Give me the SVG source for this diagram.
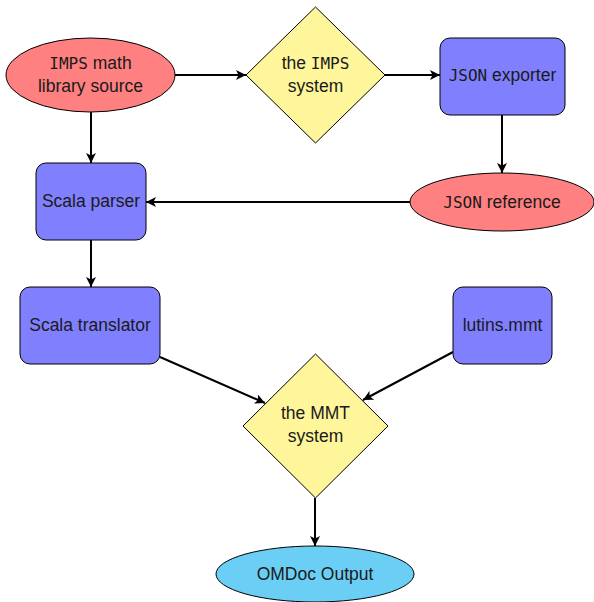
<svg xmlns="http://www.w3.org/2000/svg" width="594" height="602" viewBox="0 0 594 602">
<defs>
<marker id="ah" viewBox="0 0 10 10" refX="10" refY="5" markerWidth="10" markerHeight="10" markerUnits="userSpaceOnUse" orient="auto">
<path d="M0,0 L10,5 L0,10 L2.5,5 Z" fill="#000"/>
</marker>
<style>
.sh{stroke:#000;stroke-width:1}
.red{fill:#FF8080}
.yel{fill:#FFF59B}
.blu{fill:#8080FF}
.cya{fill:#6BCFF5}
text{font-family:"Liberation Sans",Arial,sans-serif;font-size:17.5px;fill:#1a1a1a;text-anchor:middle}
.tt{font-family:"DejaVu Sans Mono","Liberation Mono",monospace;font-size:16px}
.e{stroke:#000;stroke-width:2;fill:none;marker-end:url(#ah)}
</style>
</defs>
<rect width="594" height="602" fill="#fff"/>
<g id="connectors">
<line class="e" x1="175" y1="75" x2="246" y2="75"/>
<line class="e" x1="385" y1="75" x2="440" y2="75"/>
<line class="e" x1="502" y1="115" x2="502" y2="173"/>
<line class="e" x1="410" y1="202" x2="146" y2="202"/>
<line class="e" x1="91" y1="112" x2="91" y2="163"/>
<line class="e" x1="91" y1="240" x2="91" y2="287"/>
<line class="e" x1="160" y1="357" x2="265" y2="403"/>
<line class="e" x1="453" y1="352" x2="363" y2="400"/>
<line class="e" x1="315" y1="498" x2="315" y2="546"/>
</g>
<g id="imps-source">
<ellipse class="sh red" cx="90.5" cy="75" rx="84.5" ry="37"/>
<text x="90.5" y="69"><tspan class="tt">IMPS</tspan> math</text>
<text x="90.5" y="92">library source</text>
</g>
<g id="imps-system">
<polygon class="sh yel" points="315.5,7 385,75 315.5,143 246,75"/>
<text x="315.5" y="69">the <tspan class="tt">IMPS</tspan></text>
<text x="315.5" y="92">system</text>
</g>
<g id="json-exporter">
<rect class="sh blu" x="440" y="38" width="125" height="77" rx="10"/>
<text x="502.5" y="81"><tspan class="tt">JSON</tspan> exporter</text>
</g>
<g id="json-reference">
<ellipse class="sh red" cx="502" cy="202" rx="92" ry="29"/>
<text x="502" y="208"><tspan class="tt">JSON</tspan> reference</text>
</g>
<g id="scala-parser">
<rect class="sh blu" x="36" y="163" width="110" height="77" rx="10"/>
<text x="91" y="207">Scala parser</text>
</g>
<g id="scala-translator">
<rect class="sh blu" x="20" y="287" width="140" height="77" rx="10"/>
<text x="90" y="331">Scala translator</text>
</g>
<g id="lutins">
<rect class="sh blu" x="453" y="287" width="99" height="77" rx="10"/>
<text x="502.5" y="331">lutins.mmt</text>
</g>
<g id="mmt-system">
<polygon class="sh yel" points="315.5,354 388,426 315.5,498 243,426"/>
<text x="315.5" y="419">the MMT</text>
<text x="315.5" y="442">system</text>
</g>
<g id="omdoc">
<ellipse class="sh cya" cx="315" cy="574" rx="99" ry="28"/>
<text x="315" y="580">OMDoc Output</text>
</g>
</svg>
